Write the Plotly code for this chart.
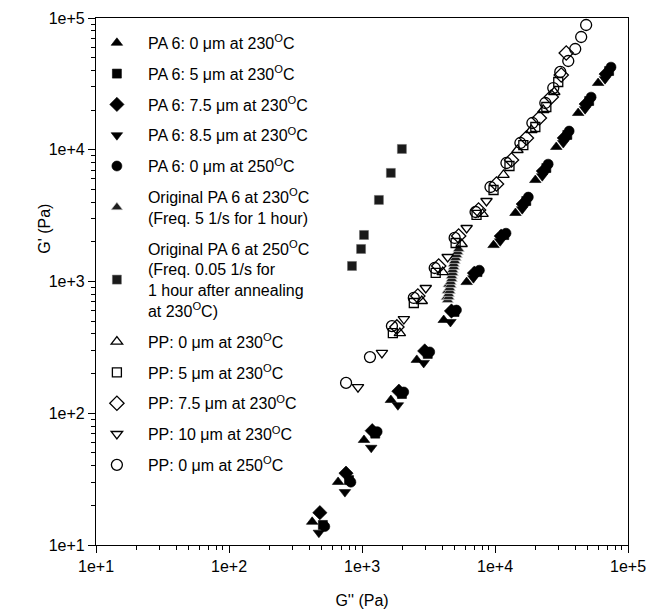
import plotly.graph_objects as go

# ---- PA 6 data (G'' , G') ----
pa6_0_230_x = [422, 661, 1035, 1649, 2582, 4115, 6120, 9750, 14250, 20100, 28900, 42200, 59600]
pa6_0_230_y = [15.0, 30.1, 62.7, 126, 254, 510, 990, 1890, 3310, 5890, 10500, 19000, 32100]
pa6_5_x = [508, 799, 1258, 1997, 3122, 4961, 7381, 11740, 17180, 24320, 34970, 51060, 72120]
pa6_5_y = [14.2, 31.1, 70, 140, 282, 587, 1179, 2251, 4081, 7262, 12950, 23430, 39580]
pa6_75_x = [482, 758, 1194, 1894, 2962, 4707, 7003, 11140, 16300, 23080, 33180, 48450, 68420]
pa6_75_y = [17.6, 35.1, 73.7, 147, 297, 597, 1158, 2211, 3873, 6891, 12290, 22230, 37560]
pa6_85_x = [474, 744, 1173, 1861, 2910, 4625, 6881, 10940, 16020, 22670, 32600, 47600, 67230]
pa6_85_y = [12.4, 25.2, 54.7, 115, 241, 493, 1060, 2020, 3540, 6300, 11240, 20330, 34350]
pa6_0_250_x = [525, 825, 1300, 2060, 3230, 5130, 7630, 12100, 17800, 25100, 36100, 52800, 74500]
pa6_0_250_y = [13.8, 30, 72.5, 145, 292, 607, 1218, 2325, 4370, 7775, 13860, 25080, 42370]

orig_230_x = [4406, 4330, 4485, 4485, 4400, 4563, 4563, 4480, 4642, 4642, 4724, 4724,
              4806, 4806, 4890, 4890, 4975, 5058, 5148, 5237, 5329]
orig_230_y = [724, 760, 763, 804, 850, 847, 893, 950, 940, 991, 1045, 1101,
              1160, 1223, 1288, 1358, 1431, 1508, 1589, 1675, 1765]
orig_250_x = [841, 984, 1035, 1340, 1648, 1995]
orig_250_y = [1312, 1766, 2255, 4160, 6670, 10140]

# ---- PP data ----
pp_0_230_x = [1926, 2814, 4044, 5610, 8060, 11580, 14750, 18760, 23070, 27900]
pp_0_230_y = [406, 711, 1180, 1926, 3255, 6435, 9956, 14120, 20030, 27440]
pp_5_x = [1706, 2452, 3582, 5058, 7263, 9750, 12850, 16330, 20100, 24320, 29900]
pp_5_y = [406, 687, 1161, 1960, 3199, 4950, 7530, 10860, 14880, 21110, 32680]
pp_75_x = [1829, 2628, 3773, 5330, 7520, 10260, 13300, 17220, 21550, 26490, 31480, 34330]
pp_75_y = [452, 776, 1312, 2215, 3490, 5495, 8360, 12280, 17410, 25130, 36920, 54240]
pp_10_x = [933, 1412, 2064, 3016, 4406, 6120, 8630]
pp_10_y = [158, 287, 519, 893, 1535, 2547, 4083]
pp_0_250_x = [759, 1148, 1679, 2452, 3521, 4973, 7145, 9250, 12190, 15520, 19100,
              23900, 27420, 30960, 35550, 40100, 44460, 48440]
pp_0_250_y = [170, 267, 459, 750, 1266, 2140, 3370, 5213, 7930, 11250, 15960,
              22640, 29400, 38940, 47170, 58170, 71770, 88500]

tick_vals = [10, 100, 1000, 10000, 100000]
tick_text = ["1e+1", "1e+2", "1e+3", "1e+4", "1e+5"]
minor_vals = [m * 10 ** d for d in range(1, 5) for m in range(2, 10)]

FONT = "Liberation Sans, Arial, sans-serif"
S = "<sup>O</sup>"
series = [
    ("PA 6: 0 \u03bcm at 230" + S + "C", pa6_0_230_x, pa6_0_230_y, "triangle-up", "black", "black", 10, 0.6),
    ("PA 6: 5 \u03bcm at 230" + S + "C", pa6_5_x, pa6_5_y, "square", "black", "black", 9, 0.6),
    ("PA 6: 7.5 \u03bcm at 230" + S + "C", pa6_75_x, pa6_75_y, "diamond", "black", "black", 11, 0.6),
    ("PA 6: 8.5 \u03bcm at 230" + S + "C", pa6_85_x, pa6_85_y, "triangle-down", "black", "black", 10, 0.6),
    ("PA 6: 0 \u03bcm at 250" + S + "C", pa6_0_250_x, pa6_0_250_y, "circle", "black", "black", 10, 0.6),
    ("Original PA 6 at 230" + S + "C<br>(Freq. 5 1/s for 1 hour)", orig_230_x, orig_230_y,
     "triangle-up", "#1e1e1e", "#cfcfcf", 10, 0.6),
    ("Original PA 6 at 250" + S + "C<br>(Freq. 0.05 1/s for<br>1 hour after annealing<br>at 230" + S + "C)",
     orig_250_x, orig_250_y, "square", "#1a1a1a", "#666666", 9, 0.5),
    ("PP: 0 \u03bcm at 230" + S + "C", pp_0_230_x, pp_0_230_y, "triangle-up-open", "black", "black", 10, 1.3),
    ("PP: 5 \u03bcm at 230" + S + "C", pp_5_x, pp_5_y, "square-open", "black", "black", 9, 1.3),
    ("PP: 7.5 \u03bcm at 230" + S + "C", pp_75_x, pp_75_y, "diamond-open", "black", "black", 11, 1.3),
    ("PP: 10 \u03bcm at 230" + S + "C", pp_10_x, pp_10_y, "triangle-down-open", "black", "black", 10, 1.3),
    ("PP: 0 \u03bcm at 250" + S + "C", pp_0_250_x, pp_0_250_y, "circle-open", "black", "black", 11, 1.3),
]

fig = go.Figure()
for i, (name, xs, ys, sym, col, lcol, size, lw) in enumerate(series):
    fig.add_trace(go.Scatter(
        x=xs, y=ys, mode="markers", name=name, legendgroup=f"g{i}",
        marker=dict(symbol=sym, color=col, size=size, line=dict(color=lcol, width=lw)),
    ))

axis_common = dict(
    type="log", tickvals=tick_vals, ticktext=tick_text, ticks="outside", ticklen=7,
    tickcolor="black", tickwidth=1, showline=True, linecolor="black", linewidth=1.2,
    mirror=True, showgrid=False, zeroline=False, automargin=False,
    minor=dict(tickvals=minor_vals, ticks="outside", ticklen=4, tickcolor="black", showgrid=False),
    tickfont=dict(family=FONT, size=16, color="black"),
)
fig.update_xaxes(range=[1, 5], title=dict(text="G'' (Pa)", standoff=20,
                 font=dict(family=FONT, size=16, color="black")),
                 **axis_common)
fig.update_yaxes(range=[1, 5], **axis_common)

fig.add_annotation(text="G' (Pa)", xref="paper", yref="paper", x=-0.096, y=0.60,
                   xanchor="center", yanchor="middle", textangle=-90, showarrow=False,
                   font=dict(family=FONT, size=16, color="black"))

fig.update_layout(
    width=648, height=612,
    margin=dict(l=96, r=20, t=18, b=67),
    paper_bgcolor="white", plot_bgcolor="white",
    font=dict(family=FONT, size=16, color="black"),
    legend=dict(x=-0.019, y=0.985, xanchor="left", yanchor="top", bgcolor="rgba(0,0,0,0)",
                tracegroupgap=7, itemwidth=52,
                font=dict(family=FONT, size=16, color="black")),
    showlegend=True,
)

fig.write_html("out.html")
